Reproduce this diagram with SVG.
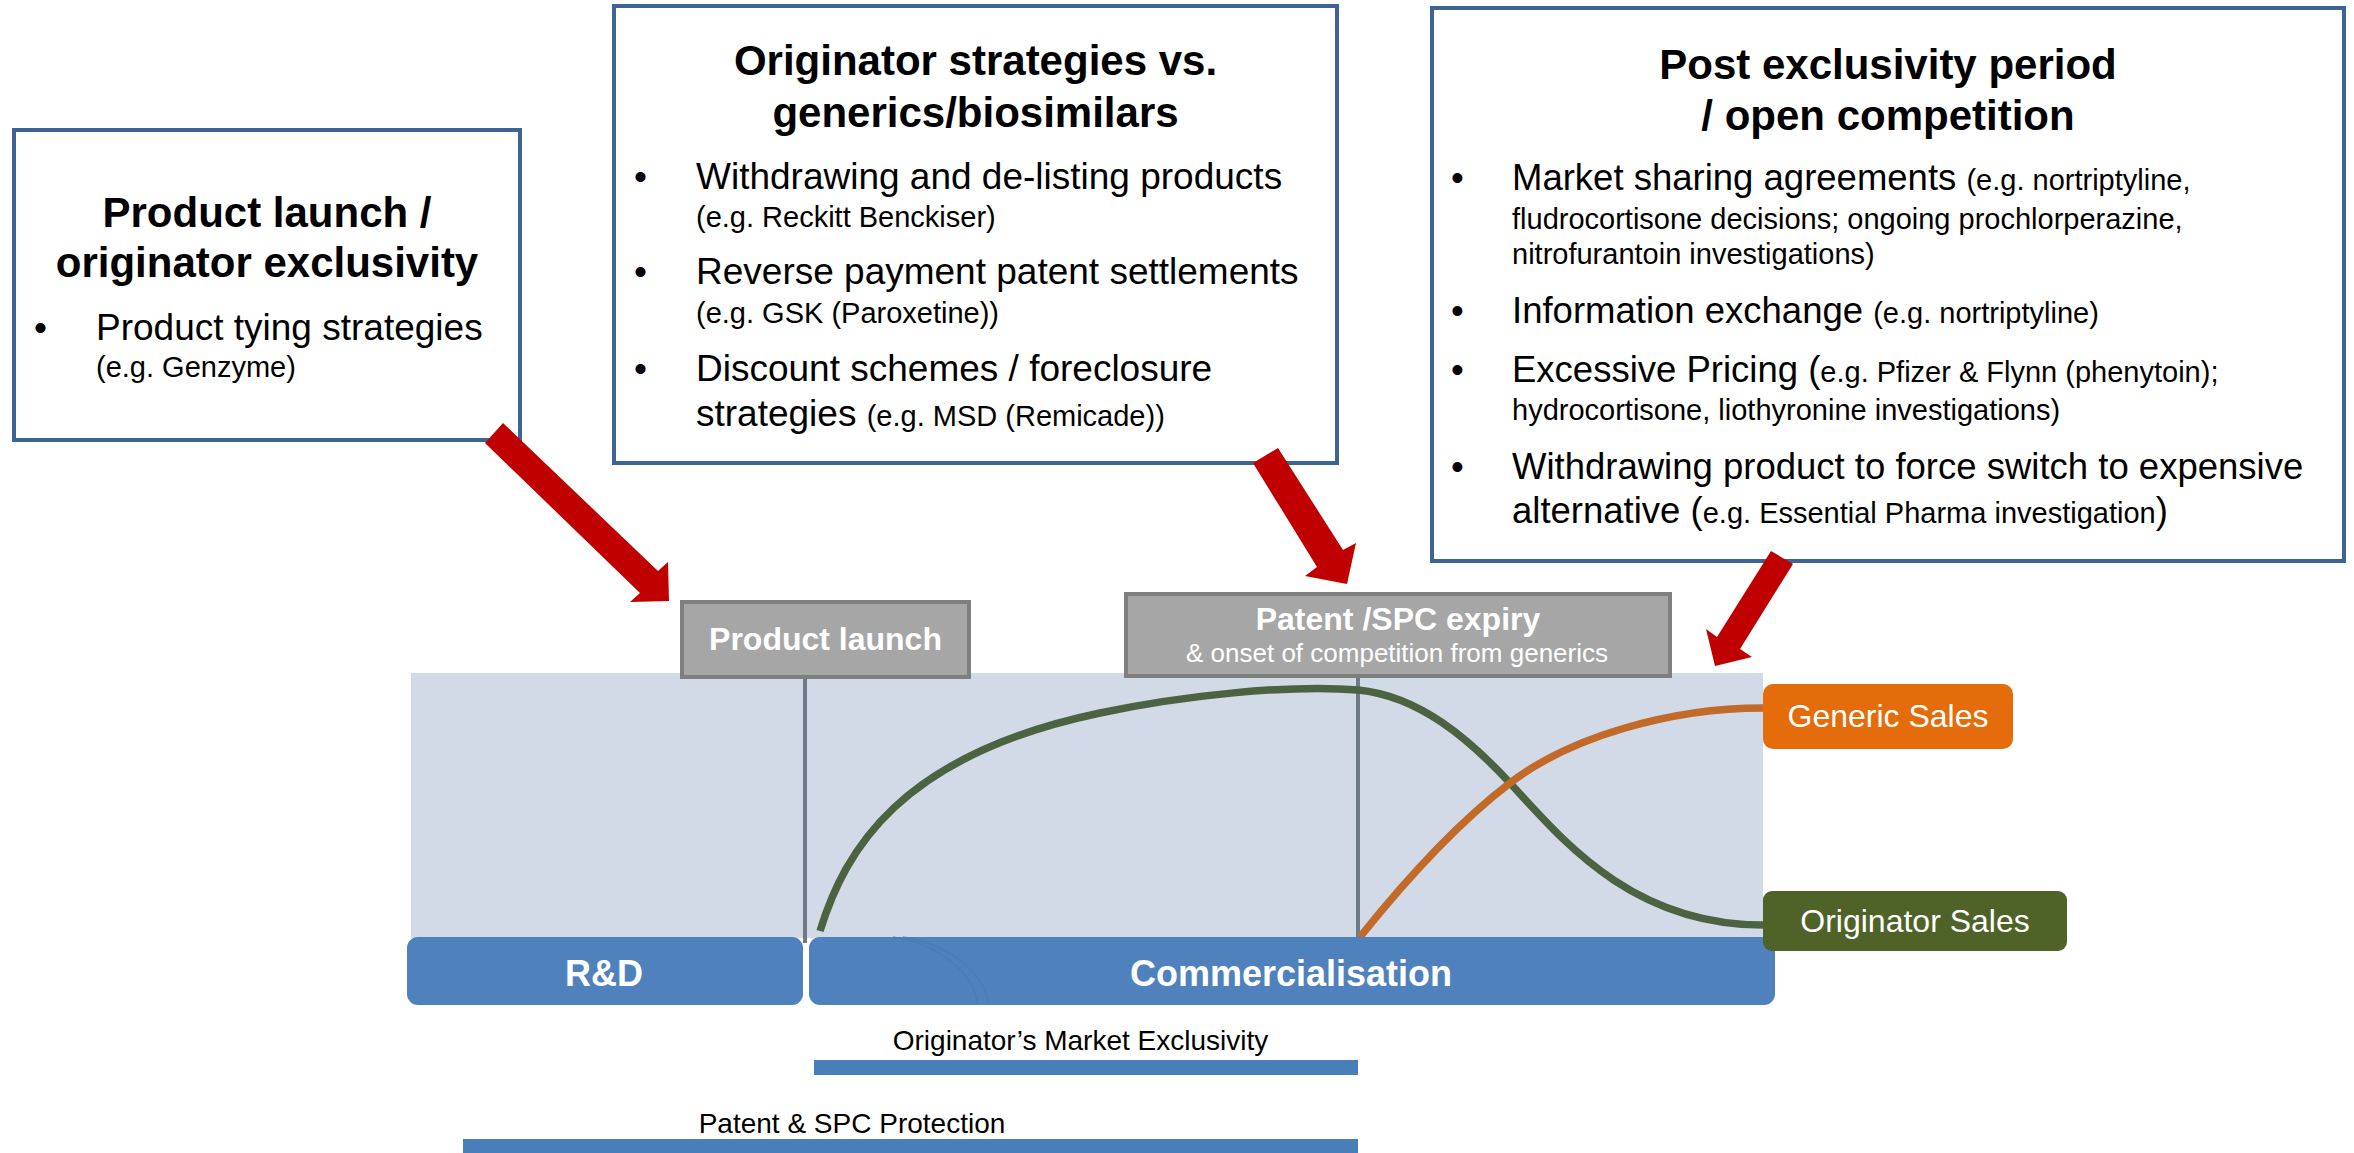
<svg xmlns="http://www.w3.org/2000/svg" width="2354" height="1153" viewBox="0 0 2354 1153">
<style>
text{font-family:"Liberation Sans",Arial,sans-serif;}
.box{fill:#fff;stroke:#3D6494;stroke-width:4;}
.ttl{font-size:42px;font-weight:bold;fill:#000;text-anchor:middle;}
.b{font-size:37px;fill:#000;}
.b3{font-size:36.5px;fill:#000;}
.s{font-size:29px;}
.gray{fill:#A6A6A6;stroke:#7F7F7F;stroke-width:4;}
.wt{fill:#fff;text-anchor:middle;}
.phase{fill:#4F81BD;}
.bar{fill:#4A7EBB;}
.lbl{font-size:28px;fill:#000;text-anchor:middle;}
.arrow{fill:#C00000;}
.vline{stroke:#6F7A88;stroke-width:4;fill:none;}
</style>
<rect x="0" y="0" width="2354" height="1153" fill="#fff"/>

<g id="timeline-bg">
<rect x="411" y="673" width="1352" height="265" fill="#D1DAE6"/>
</g>

<g id="box-launch">
<rect class="box" x="14" y="130" width="506" height="310"/>
<text class="ttl" x="267" y="227">Product launch /</text>
<text class="ttl" x="267" y="277">originator exclusivity</text>
<text class="b" x="34" y="340">•</text>
<text class="b" x="96" y="340">Product tying strategies</text>
<text class="b s" x="96" y="377">(e.g. Genzyme)</text>
</g>

<g id="box-originator">
<rect class="box" x="614" y="6" width="723" height="457"/>
<text class="ttl" x="975.5" y="75">Originator strategies vs.</text>
<text class="ttl" x="975.5" y="127">generics/biosimilars</text>
<text class="b" x="634" y="189">•</text>
<text class="b" x="696" y="189">Withdrawing and de-listing products</text>
<text class="b s" x="696" y="227">(e.g. Reckitt Benckiser)</text>
<text class="b" x="634" y="284">•</text>
<text class="b" x="696" y="284">Reverse payment patent settlements</text>
<text class="b s" x="696" y="323">(e.g. GSK (Paroxetine))</text>
<text class="b" x="634" y="381">•</text>
<text class="b" x="696" y="381">Discount schemes / foreclosure</text>
<text class="b" x="696" y="426">strategies <tspan class="s">(e.g. MSD (Remicade))</tspan></text>
</g>

<g id="box-post">
<rect class="box" x="1432" y="8" width="912" height="553"/>
<text class="ttl" x="1888" y="79">Post exclusivity period</text>
<text class="ttl" x="1888" y="130">/ open competition</text>
<text class="b3" x="1451" y="190">•</text>
<text class="b3" x="1512" y="190">Market sharing agreements <tspan class="s">(e.g. nortriptyline,</tspan></text>
<text class="b3 s" x="1512" y="229">fludrocortisone decisions; ongoing prochlorperazine,</text>
<text class="b3 s" x="1512" y="264">nitrofurantoin investigations)</text>
<text class="b3" x="1451" y="323">•</text>
<text class="b3" x="1512" y="323">Information exchange <tspan class="s">(e.g. nortriptyline)</tspan></text>
<text class="b3" x="1451" y="382">•</text>
<text class="b3" x="1512" y="382">Excessive Pricing (<tspan class="s">e.g. Pfizer &amp; Flynn (phenytoin);</tspan></text>
<text class="b3 s" x="1512" y="420">hydrocortisone, liothyronine investigations)</text>
<text class="b3" x="1451" y="479">•</text>
<text class="b3" x="1512" y="479">Withdrawing product to force switch to expensive</text>
<text class="b3" x="1512" y="523">alternative (<tspan class="s">e.g. Essential Pharma investigation</tspan>)</text>
</g>

<g id="connectors">
<polygon class="arrow" points="503,423 658,571 668,562 669,601 630,602 640,593 485,443"/>
<polygon class="arrow" points="1278,448 1343,550 1356,543 1347,584 1305,576 1317,567 1253,463"/>
<polygon class="arrow" points="1771,551 1793,564 1740,649 1752,657 1715,666 1706,629 1717,637"/>
<line class="vline" x1="805" y1="677" x2="805" y2="943"/>
<line class="vline" x1="1358" y1="676" x2="1358" y2="937"/>
</g>

<g id="curves">
<path d="M820,931 C845,850 900,755 1100,713 C1180,696 1290,684 1358,690 C1420,696 1470,740 1510,783 C1560,837 1630,925 1763,925" fill="none" stroke="#4B6341" stroke-width="7.5"/>
<path d="M1360,937 C1400,887 1455,825 1510,783 C1570,737 1670,708 1763,708" fill="none" stroke="#C26A28" stroke-width="7.5"/>
</g>

<g id="label-product-launch">
<rect class="gray" x="682" y="602" width="287" height="75"/>
<text class="wt" x="825.5" y="650" font-size="32" font-weight="bold">Product launch</text>
</g>

<g id="label-patent-expiry">
<rect class="gray" x="1126" y="594" width="544" height="82"/>
<text class="wt" x="1398" y="630" font-size="32" font-weight="bold">Patent /SPC expiry</text>
<text class="wt" x="1397" y="662" font-size="26">&amp; onset of competition from generics</text>
</g>

<g id="phase-rd">
<rect class="phase" x="407" y="937" width="396" height="68" rx="11"/>
<text class="wt" x="604" y="986" font-size="36" font-weight="bold">R&amp;D</text>
</g>

<g id="phase-commercialisation">
<rect class="phase" x="809" y="937" width="966" height="68" rx="11"/>
<path d="M893,937 C940,944 975,975 977,1004 M903,937 C950,944 986,975 988,1004" fill="none" stroke="#4979B6" stroke-width="1.5" opacity="0.7"/>
<text class="wt" x="1291" y="986" font-size="36" font-weight="bold">Commercialisation</text>
</g>

<g id="generic-sales">
<rect x="1763" y="684" width="250" height="65" rx="10" fill="#E46C0A"/>
<text class="wt" x="1888" y="727" font-size="32">Generic Sales</text>
</g>

<g id="originator-sales">
<rect x="1763" y="891" width="304" height="60" rx="9" fill="#4F6228"/>
<text class="wt" x="1915" y="932" font-size="32">Originator Sales</text>
</g>

<g id="market-exclusivity">
<text class="lbl" x="1080.5" y="1050">Originator’s Market Exclusivity</text>
<rect class="bar" x="814" y="1060" width="544" height="15"/>
</g>

<g id="patent-protection">
<text class="lbl" x="852" y="1133">Patent &amp; SPC Protection</text>
<rect class="bar" x="463" y="1139" width="895" height="14"/>
</g>
</svg>
